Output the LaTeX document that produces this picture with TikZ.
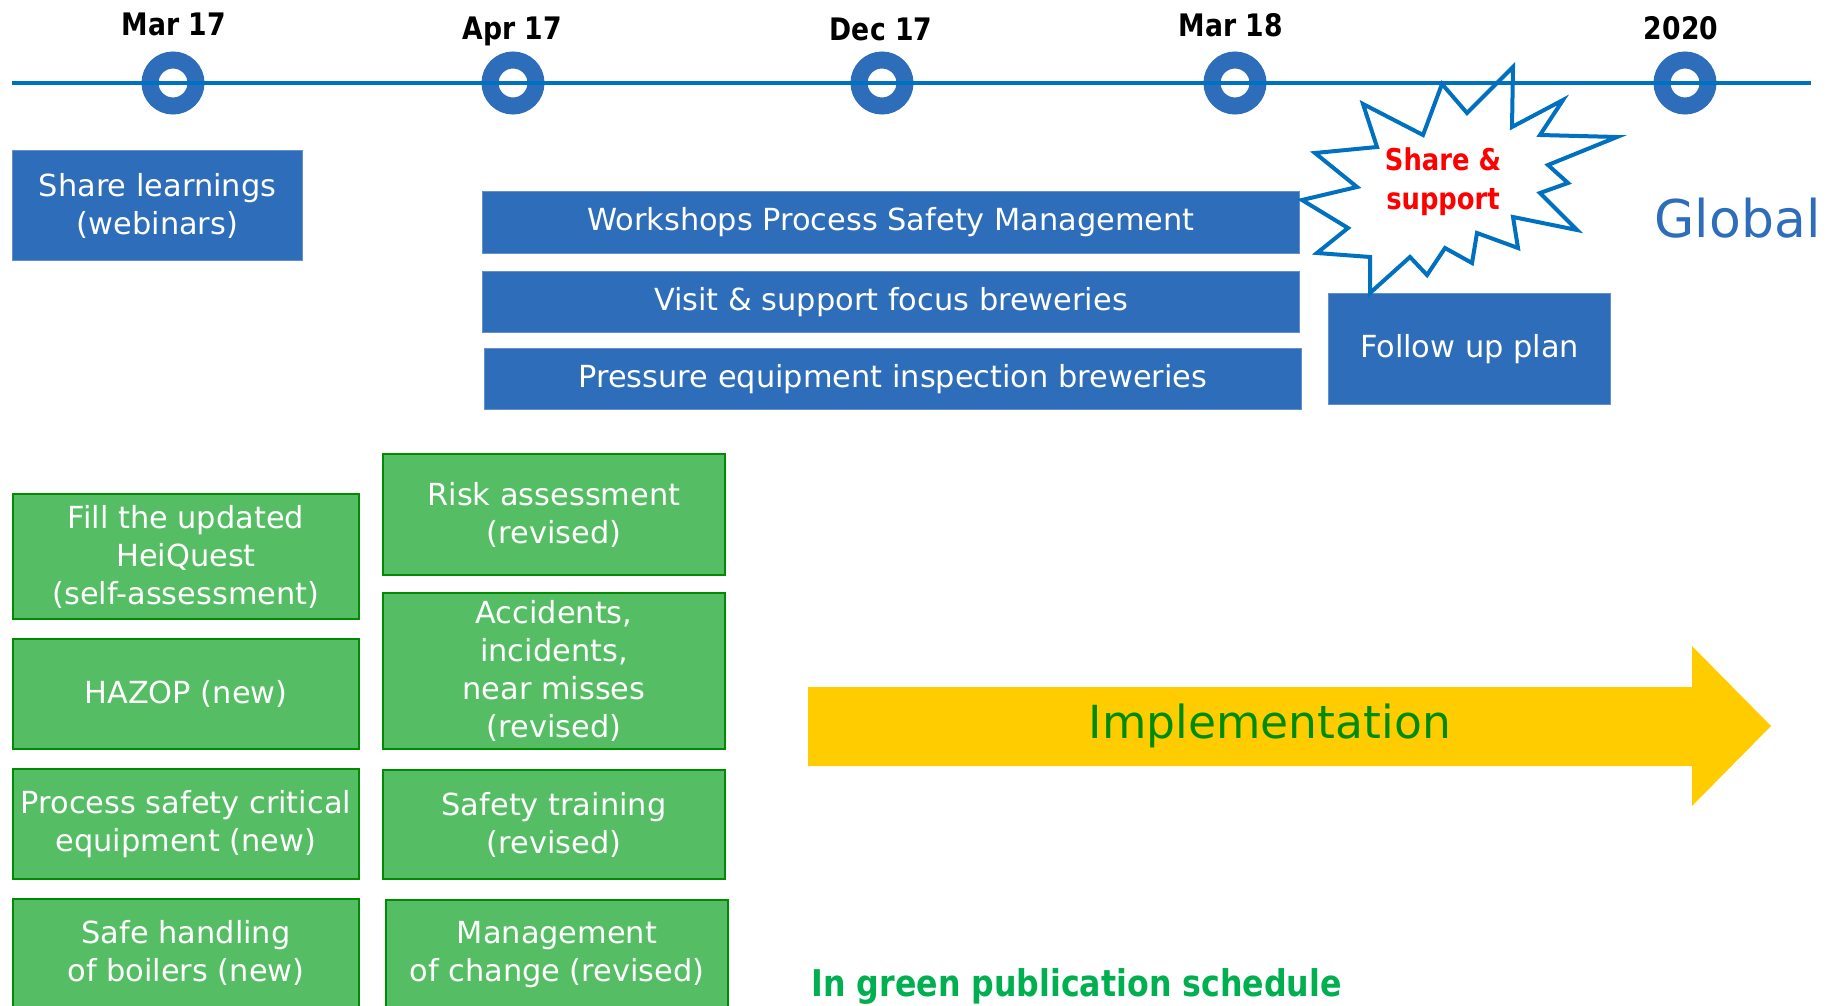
\documentclass[tikz,border=0pt]{standalone}
\usepackage{fontspec}
\setmainfont{DejaVu Sans}
\newfontfamily\narrowfont[FakeStretch=0.86]{DejaVu Sans}
\usetikzlibrary{positioning}

\definecolor{pblue}{RGB}{46,109,185}
\definecolor{lineblue}{RGB}{0,112,192}
\definecolor{pgreen}{RGB}{85,190,100}
\definecolor{dgreen}{RGB}{0,140,0}
\definecolor{gold}{RGB}{255,204,0}
\definecolor{pubgreen}{RGB}{0,176,80}

\newcommand{\boxfont}{\fontsize{30.4}{38}\selectfont}

\tikzstyle{milestone} = [circle, draw=pblue, line width=17pt, minimum size=46pt, inner sep=0pt]
\tikzstyle{datelabel} = [anchor=base, font=\narrowfont\bfseries\fontsize{31}{36}\selectfont]
\tikzstyle{bluebox}   = [rectangle, fill=pblue, draw=pblue!75!white, line width=1pt, text=white, align=center, inner sep=0pt, font=\boxfont]
\tikzstyle{greenbox}  = [rectangle, fill=pgreen, draw=dgreen, line width=2pt, text=white, align=center, inner sep=0pt, font=\boxfont]

\begin{document}
\begin{tikzpicture}[x=1pt, y=-1pt]
\clip (0,0) rectangle (1837,1006);

% global actions
\node[bluebox, anchor=north west, minimum width=290pt, minimum height=110pt] (webinars) at (12,150) {Share learnings\\(webinars)};
\node[bluebox, anchor=north west, minimum width=817pt, minimum height=62pt] (workshops) at (482,191) {Workshops Process Safety Management};
\node[bluebox, anchor=north west, minimum width=817pt, minimum height=61pt] (visit) at (482,271) {Visit \& support focus breweries};
\node[bluebox, anchor=north west, minimum width=817pt, minimum height=61pt] (pressure) at (484,348) {Pressure equipment inspection breweries};
\node[bluebox, anchor=north west, minimum width=282pt, minimum height=111pt] (followup) at (1328,293) {Follow up plan};

% standards, left column
\node[greenbox, anchor=north west, minimum width=346pt, minimum height=125pt] (heiquest) at (12,493) {Fill the updated\\HeiQuest\\(self-assessment)};
\node[greenbox, below=18pt of heiquest, minimum width=346pt, minimum height=110pt] (hazop) {HAZOP (new)};
\node[greenbox, below=18pt of hazop, minimum width=346pt, minimum height=110pt] (critical) {Process safety critical\\equipment (new)};
\node[greenbox, below=18pt of critical, minimum width=346pt, minimum height=130pt, text depth=26pt] (boilers) {Safe handling\\of boilers (new)};

% standards, right column
\node[greenbox, anchor=north west, minimum width=342pt, minimum height=121pt] (risk) at (382,453) {Risk assessment\\(revised)};
\node[greenbox, below=16pt of risk, minimum width=342pt, minimum height=156pt] (accidents) {Accidents,\\incidents,\\near misses\\(revised)};
\node[greenbox, below=19pt of accidents, minimum width=342pt, minimum height=109pt] (training) {Safety training\\(revised)};
\node[greenbox, anchor=north west, minimum width=342pt, minimum height=130pt, text depth=27pt] (moc) at (385,899) {Management\\of change (revised)};

% starburst
\draw[lineblue, line width=4pt, line join=miter, fill=white]
  (1513,67) -- (1512,127) -- (1563,100) -- (1540,135) -- (1617,137) -- (1548,165)
  -- (1568,183) -- (1540,193) -- (1577,230) -- (1513,217) -- (1518,248) -- (1477,233)
  -- (1472,263) -- (1445,248) -- (1427,275) -- (1410,257) -- (1370,293) -- (1370,257)
  -- (1317,253) -- (1348,228) -- (1302,200) -- (1357,187) -- (1315,153) -- (1377,147)
  -- (1363,104) -- (1423,135) -- (1442,84) -- (1467,113) -- cycle;
\node[text=red, align=center, font=\narrowfont\bfseries\fontsize{30}{39}\selectfont] (share) at (1443,182) {Share \&\\support};

% timeline
\node[milestone] (m1) at (173,83) {};
\node[milestone] (m2) at (513,83) {};
\node[milestone] (m3) at (882,83) {};
\node[milestone] (m4) at (1235,83) {};
\node[milestone] (m5) at (1685,83) {};
\coordinate (tstart) at (12,83);
\coordinate (tend) at (1811,83);
\draw[lineblue, line width=4pt] (tstart) -- (tend);

\node[datelabel] (d1) at (174,36) {Mar 17};
\node[datelabel] (d2) at (512,40) {Apr 17};
\node[datelabel] (d3) at (881,41) {Dec 17};
\node[datelabel] (d4) at (1231,37) {Mar 18};
\node[datelabel] (d5) at (1681,40) {2020};

\node[anchor=base west, text=pblue, font=\fontsize{52}{60}\selectfont] (global) at (1651,237) {Global};

% implementation arrow
\coordinate (a0) at (808,687);
\coordinate (a1) at (1692,687);
\coordinate (a2) at (1692,646);
\coordinate (a3) at (1771,726);
\coordinate (a4) at (1692,806);
\coordinate (a5) at (1692,766);
\coordinate (a6) at (808,766);
\fill[gold] (a0) -- (a1) -- (a2) -- (a3) -- (a4) -- (a5) -- (a6) -- cycle;
\node[anchor=base, text=dgreen, font=\fontsize{45.6}{55}\selectfont] (impl) at (1270,738) {Implementation};

\node[anchor=base west, text=pubgreen, font=\narrowfont\bfseries\fontsize{36.8}{42}\selectfont] (schedule) at (808,996) {In green publication schedule};
\end{tikzpicture}
\end{document}
